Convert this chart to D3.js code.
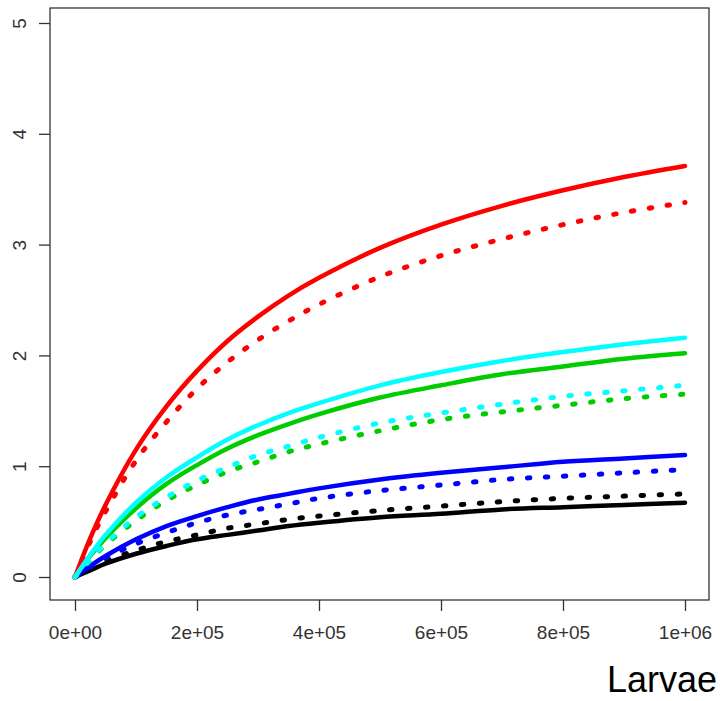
<!DOCTYPE html>
<html>
<head>
<meta charset="utf-8">
<script src="https://cdn.jsdelivr.net/npm/d3@7"></script>
<style>
  html, body { margin: 0; padding: 0; background: #fff; }
  svg { display: block; }
</style>
</head>
<body>
<svg id="chart" width="725" height="701"></svg>
<script>
// ---- data ----
const larvae = [0, 25000, 50000, 100000, 150000, 200000, 250000, 300000, 350000, 400000, 500000, 600000, 700000, 800000, 900000, 1000000];

const redSolid    = [0, 0.35, 0.65, 1.15, 1.54, 1.86, 2.13, 2.35, 2.54, 2.70, 2.97, 3.18, 3.35, 3.49, 3.61, 3.71];
const redDotted   = [0, 0.32, 0.59, 1.05, 1.40, 1.70, 1.94, 2.14, 2.31, 2.46, 2.71, 2.90, 3.05, 3.18, 3.29, 3.38];
const cyanSolid   = [0, 0.20, 0.38, 0.67, 0.90, 1.08, 1.24, 1.37, 1.48, 1.57, 1.73, 1.85, 1.95, 2.03, 2.10, 2.16];
const greenSolid  = [0, 0.19, 0.35, 0.62, 0.84, 1.01, 1.16, 1.28, 1.38, 1.47, 1.62, 1.73, 1.83, 1.90, 1.97, 2.02];
const cyanDotted  = [0, 0.16, 0.30, 0.54, 0.72, 0.87, 0.99, 1.10, 1.18, 1.26, 1.39, 1.48, 1.56, 1.63, 1.68, 1.73];
const greenDotted = [0, 0.15, 0.29, 0.51, 0.69, 0.83, 0.95, 1.04, 1.13, 1.20, 1.32, 1.42, 1.49, 1.55, 1.61, 1.65];
const blueSolid   = [0, 0.10, 0.19, 0.34, 0.46, 0.55, 0.63, 0.70, 0.75, 0.80, 0.88, 0.94, 0.99, 1.04, 1.07, 1.10];
const blueDotted  = [0, 0.09, 0.17, 0.30, 0.40, 0.49, 0.56, 0.61, 0.66, 0.71, 0.78, 0.83, 0.88, 0.91, 0.94, 0.97];
const blackDotted = [0, 0.07, 0.14, 0.24, 0.32, 0.38, 0.44, 0.48, 0.52, 0.55, 0.60, 0.64, 0.68, 0.71, 0.73, 0.75];
const blackSolid  = [0, 0.06, 0.12, 0.21, 0.28, 0.34, 0.38, 0.42, 0.46, 0.49, 0.54, 0.57, 0.61, 0.63, 0.65, 0.67];

const xTicks = [0, 200000, 400000, 600000, 800000, 1000000];
const xTickLabels = ["0e+00", "2e+05", "4e+05", "6e+05", "8e+05", "1e+06"];
const yTicks = [0, 1, 2, 3, 4, 5];
const yTickLabels = ["0", "1", "2", "3", "4", "5"];
const xTitle = "Larvae";

// series in drawing order
const series = [
  { values: blackDotted, color: "#000000", dotted: true },
  { values: blackSolid,  color: "#000000", dotted: false },
  { values: blueDotted,  color: "#0000ff", dotted: true },
  { values: blueSolid,   color: "#0000ff", dotted: false },
  { values: redDotted,   color: "#ff0000", dotted: true },
  { values: redSolid,    color: "#ff0000", dotted: false },
  { values: greenDotted, color: "#00cd00", dotted: true },
  { values: greenSolid,  color: "#00cd00", dotted: false },
  { values: cyanDotted,  color: "#00ffff", dotted: true },
  { values: cyanSolid,   color: "#00ffff", dotted: false }
];

// ---- layout ----
const box = { left: 50, right: 709, top: 8, bottom: 600 };
const svg = d3.select("#chart");

const x = d3.scaleLinear().domain([0, 1000000]).range([75, 685]);
const y = d3.scaleLinear().domain([0, 5]).range([577, 23]);

const font = "'Liberation Sans', Arial, sans-serif";

// lines
const line = d3.line()
  .x((d, i) => x(larvae[i]))
  .y(d => y(d))
  .curve(d3.curveCatmullRom.alpha(0.5));

const g = svg.append("g");
series.forEach(s => {
  g.append("path")
    .attr("d", line(s.values))
    .attr("fill", "none")
    .attr("stroke", s.color)
    .attr("stroke-width", s.dotted ? 5 : 4.5)
    .attr("stroke-linecap", "round")
    .attr("stroke-linejoin", "round")
    .attr("stroke-dasharray", s.dotted ? "2.5,15.5" : null);
});

// box
svg.append("rect")
  .attr("x", box.left).attr("y", box.top)
  .attr("width", box.right - box.left).attr("height", box.bottom - box.top)
  .attr("fill", "none").attr("stroke", "#333").attr("stroke-width", 1.3);

// x axis
const xAxis = d3.axisBottom(x)
  .tickValues(xTicks)
  .tickFormat((d, i) => xTickLabels[i])
  .tickSize(11)
  .tickPadding(15);
const xg = svg.append("g")
  .attr("transform", `translate(0,${box.bottom})`)
  .call(xAxis);
xg.select(".domain").remove();
xg.selectAll(".tick line").attr("stroke", "#333").attr("stroke-width", 1.3);
xg.selectAll(".tick text")
  .attr("fill", "#333")
  .style("font-family", font)
  .style("font-size", "19px");

// y axis
const yAxis = d3.axisLeft(y)
  .tickValues(yTicks)
  .tickFormat((d, i) => yTickLabels[i])
  .tickSize(11);
const yg = svg.append("g")
  .attr("transform", `translate(${box.left},0)`)
  .call(yAxis);
yg.select(".domain").remove();
yg.selectAll(".tick line").attr("stroke", "#333").attr("stroke-width", 1.3);
yg.selectAll(".tick text")
  .attr("x", null).attr("dy", null)
  .attr("transform", "translate(-24,0) rotate(-90)")
  .attr("text-anchor", "middle")
  .attr("fill", "#333")
  .style("font-family", font)
  .style("font-size", "19px");

// x title
svg.append("text")
  .attr("x", 717).attr("y", 692)
  .attr("text-anchor", "end")
  .style("font-family", font)
  .style("font-size", "36px")
  .attr("fill", "#000")
  .text(xTitle);
</script>
</body>
</html>
